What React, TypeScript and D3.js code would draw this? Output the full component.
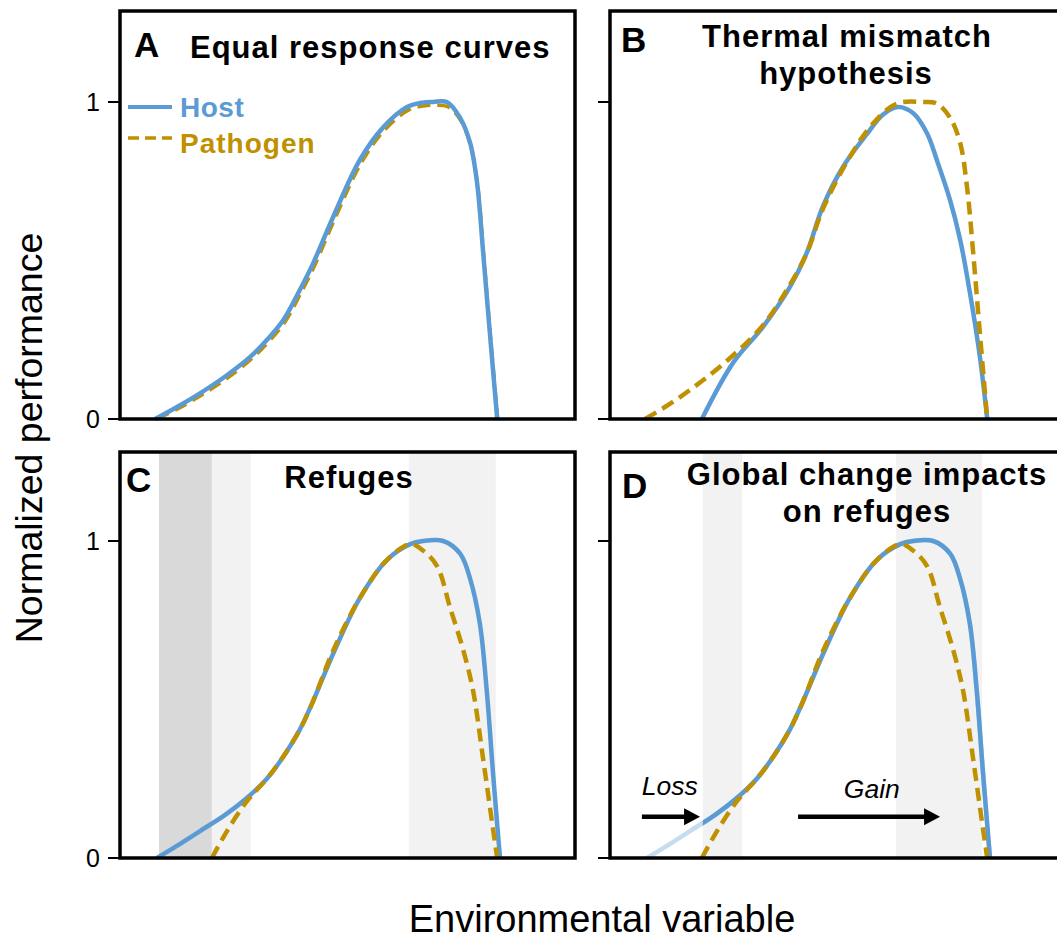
import React from "react";
import * as d3 from "d3";

// ---------- data (x: environmental variable 0-100, y: normalized performance) ----------
const hostA_x = [8.1, 12.4, 17.9, 23.4, 28.8, 32.5, 36.1, 39.7, 42.6, 47.0, 52.8, 57.9, 63.1, 66.5, 68.8, 71.8, 74.7, 76.9, 78.4, 79.7, 81.2, 82.8];
const hostA_y = [0, 0.034, 0.081, 0.134, 0.195, 0.249, 0.312, 0.407, 0.491, 0.638, 0.817, 0.92, 0.984, 0.998, 1.0, 1.0, 0.95, 0.87, 0.745, 0.53, 0.27, 0];
const pathA_x = [8.5, 12.8, 18.3, 23.8, 29.2, 32.9, 36.5, 40.1, 43.0, 47.4, 53.2, 58.3, 63.5, 67, 69.2, 72, 74.9, 77.0, 78.5, 79.8, 81.3, 82.9];
const pathA_y = [0, 0.03, 0.076, 0.128, 0.19, 0.244, 0.307, 0.402, 0.486, 0.633, 0.81, 0.913, 0.975, 0.988, 0.99, 0.985, 0.94, 0.86, 0.74, 0.525, 0.265, 0];

const hostB_x = [20.5, 27.3, 33.8, 39.7, 43.4, 46.9, 51.3, 56.6, 60.0, 63.3, 66.6, 69.7, 71.8, 74.7, 76.9, 79.0, 81.2, 82.8];
const hostB_y = [0, 0.177, 0.29, 0.416, 0.524, 0.67, 0.795, 0.9, 0.96, 0.984, 0.965, 0.9, 0.817, 0.69, 0.565, 0.4, 0.196, 0];
const pathB_x = [8.1, 14.3, 20.8, 27.4, 33.9, 39.7, 43.4, 47, 52.8, 57.9, 63.1, 68.8, 71.8, 74.7, 76.9, 78.4, 79.7, 81.2, 82.8];
const pathB_y = [0, 0.055, 0.123, 0.202, 0.297, 0.423, 0.523, 0.665, 0.827, 0.933, 0.995, 1.0, 0.995, 0.95, 0.87, 0.73, 0.53, 0.27, 0];

const hostCD_x = [8.5, 12.5, 17.9, 23.4, 28.2, 32.5, 35.4, 39.7, 42.6, 47, 52.8, 58.7, 63.8, 66.6, 71, 74.7, 76.9, 79, 80.5, 81.9, 83.4];
const hostCD_y = [0, 0.035, 0.085, 0.136, 0.19, 0.25, 0.305, 0.405, 0.495, 0.645, 0.82, 0.94, 0.99, 1.0, 1.0, 0.96, 0.88, 0.74, 0.53, 0.265, 0];
const pathCD_x = [20.5, 23.8, 28.2, 32.2, 35.4, 39.7, 42.6, 47, 52.8, 58.7, 63.8, 66.6, 69.7, 72.5, 75.3, 77.5, 79.7, 81.7, 82.8];
const pathCD_y = [0, 0.085, 0.18, 0.245, 0.305, 0.405, 0.495, 0.655, 0.82, 0.94, 0.99, 0.97, 0.92, 0.79, 0.66, 0.53, 0.315, 0.11, 0];

// refuge bands [start, end, shade]
const bandsC: [number, number, string][] = [
  [8.95, 20.5, "dark"],
  [20.5, 29, "light"],
  [63.5, 82.5, "light"],
];
const bandsD: [number, number, string][] = [
  [20.7, 29.3, "light"],
  [62.9, 81.7, "light"],
];
const lossEdgeD = 20.7;
// arrows in D: [from, to, y]
const arrowLoss = [7.4, 20.1, 0.13];
const arrowGain = [41.5, 72.5, 0.13];
const yTicks = [0, 1];

// ---------- styles ----------
const HOST = "#5B9BD5";
const PATH = "#BF9000";
const FONT = "'Liberation Sans', Arial, Helvetica, sans-serif";
const SHADE: Record<string, string> = { dark: "#d9d9d9", light: "#f2f2f2" };

type Pt = [number, number];
const zip = (xs: number[], ys: number[]): Pt[] => xs.map((x, i) => [x, ys[i]]);

interface PanelSpec {
  id: string;
  left: number;
  top: number;
  bottom: number;
  host: Pt[];
  path: Pt[];
  hostOnTop: boolean;
  bands: [number, number, string][];
  labels: boolean;
}

const panels: PanelSpec[] = [
  { id: "A", left: 118, top: 11, bottom: 419, host: zip(hostA_x, hostA_y), path: zip(pathA_x, pathA_y), hostOnTop: true, bands: [], labels: true },
  { id: "B", left: 608, top: 11, bottom: 419, host: zip(hostB_x, hostB_y), path: zip(pathB_x, pathB_y), hostOnTop: false, bands: [], labels: false },
  { id: "C", left: 118, top: 452, bottom: 858, host: zip(hostCD_x, hostCD_y), path: zip(pathCD_x, pathCD_y), hostOnTop: false, bands: bandsC, labels: true },
  { id: "D", left: 608, top: 452, bottom: 858, host: zip(hostCD_x, hostCD_y), path: zip(pathCD_x, pathCD_y), hostOnTop: false, bands: bandsD, labels: false },
];

const PW = 458;
const UNIT = 317;

function Panel({ p }: { p: PanelSpec }) {
  const x = d3.scaleLinear().domain([0, 100]).range([p.left, p.left + PW]);
  const y = d3.scaleLinear().domain([0, 1]).range([p.bottom, p.bottom - UNIT]);
  const line = d3
    .line<Pt>()
    .x((d) => x(d[0]))
    .y((d) => y(d[1]))
    .curve(d3.curveCatmullRom.alpha(0.5));
  const frameL = p.left + 2;
  const frameR = p.left + 457;

  const hostPathD = line(p.host) || "";
  const pathPathD = line(p.path) || "";

  const hostEl =
    p.id === "D" ? (
      <g key="host">
        <path d={hostPathD} fill="none" stroke={HOST} strokeOpacity={0.35} strokeWidth={4.5} />
        <clipPath id="clipD">
          <rect x={x(lossEdgeD)} y={p.top} width={frameR - x(lossEdgeD)} height={p.bottom - p.top} />
        </clipPath>
        <path d={hostPathD} fill="none" stroke={HOST} strokeWidth={4.5} clipPath="url(#clipD)" />
      </g>
    ) : (
      <path key="host" d={hostPathD} fill="none" stroke={HOST} strokeWidth={4.5} />
    );
  const pathEl = (
    <path key="path" d={pathPathD} fill="none" stroke={PATH} strokeWidth={p.id === "A" ? 3.5 : 4.5} strokeDasharray="13 7" />
  );

  const arrow = (a: number[], key: string) => {
    const x0 = x(a[0]);
    const x1 = x(a[1]);
    const yy = y(a[2]);
    return (
      <g key={key}>
        <line x1={x0} x2={x1 - 14} y1={yy} y2={yy} stroke="#000" strokeWidth={4.5} />
        <polygon points={`${x1},${yy} ${x1 - 16},${yy - 8.5} ${x1 - 16},${yy + 8.5}`} fill="#000" />
      </g>
    );
  };

  return (
    <g>
      {p.bands.map((b, i) => (
        <rect key={i} x={x(b[0])} y={p.top} width={x(b[1]) - x(b[0])} height={p.bottom - p.top} fill={SHADE[b[2]]} />
      ))}
      {p.hostOnTop ? [pathEl, hostEl] : [hostEl, pathEl]}
      {p.id === "D" && (
        <g>
          {arrow(arrowLoss, "loss")}
          {arrow(arrowGain, "gain")}
          <text x={x(13.5)} y={y(0.2)} textAnchor="middle" fontFamily={FONT} fontStyle="italic" fontSize={26.5}>
            Loss
          </text>
          <text x={x(57.6)} y={y(0.19)} textAnchor="middle" fontFamily={FONT} fontStyle="italic" fontSize={26.5}>
            Gain
          </text>
        </g>
      )}
      <rect x={frameL} y={p.top} width={frameR - frameL} height={p.bottom - p.top} fill="none" stroke="#000" strokeWidth={3.5} />
      {yTicks.map((t) => (
        <g key={t}>
          <line x1={frameL - 12} x2={frameL} y1={y(t)} y2={y(t)} stroke="#000" strokeWidth={2} />
          {p.labels && (
            <text x={frameL - 20} y={y(t) + 9} textAnchor="end" fontFamily={FONT} fontSize={25}>
              {t}
            </text>
          )}
        </g>
      ))}
    </g>
  );
}

export default function App() {
  const titleStyle = { fontFamily: FONT, fontWeight: 700 as const, fontSize: 31, letterSpacing: 1 };
  const letterStyle = { fontFamily: FONT, fontWeight: 700 as const, fontSize: 35 };
  return (
    <svg width={1057} height={940} style={{ position: "absolute", left: 0, top: 0, background: "#fff" }}>
      <rect x={0} y={0} width={1057} height={940} fill="#fff" />
      {panels.map((p) => (
        <Panel key={p.id} p={p} />
      ))}
      {/* panel letters */}
      <text x={134} y={57} {...letterStyle}>A</text>
      <text x={621} y={52} {...letterStyle}>B</text>
      <text x={126} y={492} {...letterStyle}>C</text>
      <text x={622} y={498} {...letterStyle}>D</text>
      {/* titles */}
      <text x={190} y={58} {...titleStyle}>Equal response curves</text>
      <text x={847} y={47} textAnchor="middle" {...titleStyle}>Thermal mismatch</text>
      <text x={846} y={84} textAnchor="middle" {...titleStyle}>hypothesis</text>
      <text x={349} y={488} textAnchor="middle" {...titleStyle}>Refuges</text>
      <text x={867} y={485} textAnchor="middle" {...titleStyle}>Global change impacts</text>
      <text x={867} y={522} textAnchor="middle" {...titleStyle}>on refuges</text>
      {/* legend */}
      <line x1={128} x2={172} y1={107} y2={107} stroke={HOST} strokeWidth={4} />
      <text x={180} y={117} fontFamily={FONT} fontWeight={700} fontSize={28} fill={HOST} letterSpacing={0.5}>Host</text>
      <line x1={128} x2={172} y1={138} y2={138} stroke={PATH} strokeWidth={3.5} strokeDasharray="11 6" />
      <text x={180} y={153} fontFamily={FONT} fontWeight={700} fontSize={28} fill={PATH} letterSpacing={1}>Pathogen</text>
      {/* axis titles */}
      <text
        transform="translate(42,438) rotate(-90)"
        textAnchor="middle"
        fontFamily={FONT}
        fontSize={37.5}
      >
        Normalized performance
      </text>
      <text x={602} y={932} textAnchor="middle" fontFamily={FONT} fontSize={38}>
        Environmental variable
      </text>
    </svg>
  );
}
